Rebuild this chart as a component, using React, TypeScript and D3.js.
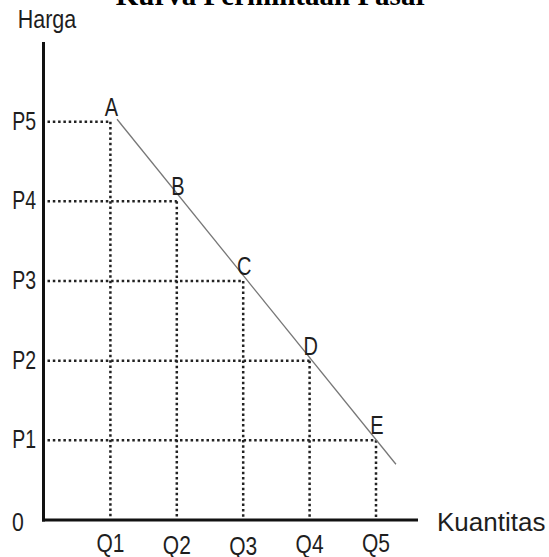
import React from "react";
import * as d3 from "d3";

const quantityLabels = ["Q1", "Q2", "Q3", "Q4", "Q5"];
const priceLabels = ["P1", "P2", "P3", "P4", "P5"];
const pointLabels = ["A", "B", "C", "D", "E"];
const pointQ = [1, 2, 3, 4, 5];
const pointP = [5, 4, 3, 2, 1];
const demandQ = [1.1, 5.3];
const demandP = [5.03, 0.7];
const qLabelDy = [0, 2, 3, 1, 0];

const W = 549;
const H = 557;
const FONT = "'Liberation Sans', Arial, sans-serif";

export default function App() {
  const x = d3.scaleLinear().domain([0, 5]).range([44, 376]);
  const y = d3.scaleLinear().domain([0, 6]).range([520, 42]);
  const line = d3
    .line<number>()
    .x((_, i) => x(demandQ[i]))
    .y((_, i) => y(demandP[i]));

  const T = (
    px: number,
    py: number,
    s: string,
    anchor: string,
    sx = 0.8,
    fs = 25,
    key?: any
  ) => (
    <g key={key} transform={`translate(${px},${py}) scale(${sx},1)`}>
      <text x={0} y={0} textAnchor={anchor} fontSize={fs} fontFamily={FONT} fill="#1e1e1e">
        {s}
      </text>
    </g>
  );

  const x0 = x(0) - 0.5;
  const y0 = y(0);

  return (
    <svg
      width={W}
      height={H}
      style={{ position: "absolute", left: 0, top: 0, background: "#fff" }}
    >
      <text
        x={272}
        y={5}
        textAnchor="middle"
        fontSize={29}
        fontWeight="bold"
        fontFamily="'Liberation Serif', 'Times New Roman', serif"
        fill="#000"
      >
        Kurva Permintaan Pasar
      </text>

      {/* dotted guides */}
      {pointQ.map((q, i) => (
        <g key={"g" + i} stroke="#222" strokeWidth={2.5} strokeDasharray="2.5 2.8" fill="none">
          <line x1={x0 + 4} x2={x(q)} y1={y(pointP[i])} y2={y(pointP[i])} />
          <line x1={x(q)} x2={x(q)} y1={y(pointP[i])} y2={y0} />
        </g>
      ))}

      {/* demand curve */}
      <path d={line(demandQ) || ""} stroke="#777" strokeWidth={1.3} fill="none" />

      {/* axes */}
      <line x1={x0} x2={x0} y1={y(6)} y2={y0 + 1.5} stroke="#111" strokeWidth={3} />
      <line x1={x0 - 1.5} x2={418} y1={y0} y2={y0} stroke="#111" strokeWidth={3} />

      {/* axis titles */}
      {T(47, 28, "Harga", "middle", 0.86)}
      {T(437, 531, "Kuantitas", "start", 1.04)}
      {T(18, 531, "0", "middle", 0.85)}

      {priceLabels.map((s, i) => T(36, y(i + 1) + 8, s, "end", 0.78, 25, "p" + i))}
      {quantityLabels.map((s, i) =>
        T(x(i + 1), 552 + qLabelDy[i], s, "middle", 0.84, 25, "q" + i)
      )}
      {pointLabels.map((s, i) =>
        T(x(pointQ[i]) + 1, y(pointP[i]) - 6, s, "middle", 0.8, 25, "l" + i)
      )}
    </svg>
  );
}
